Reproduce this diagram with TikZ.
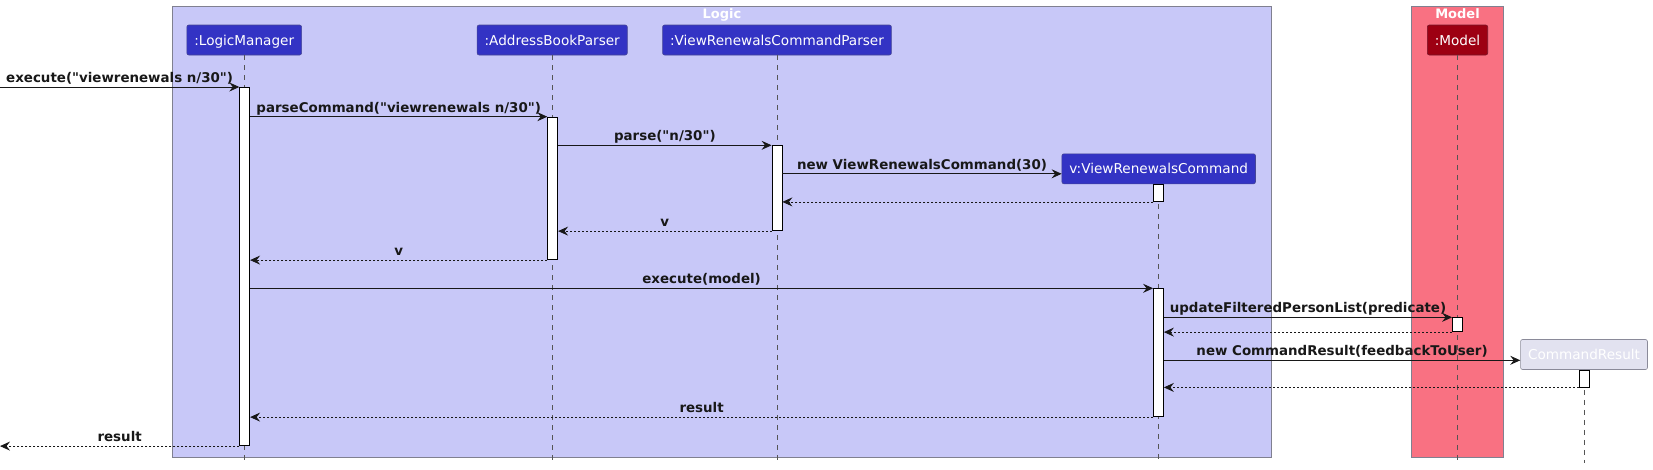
\documentclass[tikz,border=0pt]{standalone}
\usepackage{fontspec}
\setmainfont{DejaVu Sans}
\newfontfamily\umlfont{DejaVu Sans}
\usepackage{xcolor}
\usetikzlibrary{arrows.meta,positioning}

\definecolor{logicbg}{RGB}{200,200,248}
\definecolor{modelbg}{RGB}{249,113,130}
\definecolor{framegray}{RGB}{128,128,144}
\definecolor{partblue}{RGB}{51,51,196}
\definecolor{partborder}{RGB}{70,70,150}
\definecolor{modelred}{RGB}{157,0,18}
\definecolor{modelborder}{RGB}{120,20,40}
\definecolor{resultgray}{RGB}{226,226,240}
\definecolor{resultborder}{RGB}{138,138,153}
\definecolor{lifegray}{RGB}{85,85,85}
\definecolor{linecol}{RGB}{24,24,24}

\begin{document}
\begin{tikzpicture}[
    x=1pt, y=-1pt,
    frame/.style={draw=framegray, line width=0.8pt},
    participant/.style={rectangle, rounded corners=2pt, draw=partborder, fill=partblue, text=white, line width=0.6pt, minimum height=30pt, inner xsep=7.5pt, text height=10pt, text depth=0pt, font=\umlfont\fontsize{13.6}{16}\selectfont},
    activation/.style={rectangle, draw=black, fill=white, line width=0.8pt, minimum width=10pt, inner sep=0pt, anchor=north},
    lifeline/.style={draw=lifegray, line width=0.7pt, dash pattern=on 5pt off 5pt},
    call/.style={-{Stealth[length=10pt, width=9pt, inset=3.5pt]}, line width=0.8pt, draw=linecol},
    reply/.style={call, dash pattern=on 2pt off 2pt},
    msg/.style={font=\umlfont\fontsize{13.4}{15}\selectfont\bfseries, text=linecol, anchor=base, yshift=4.5pt, inner sep=0pt},
    boxlabel/.style={font=\umlfont\fontsize{13}{15}\selectfont\bfseries, text=white, anchor=base, inner sep=0pt},
]
\useasboundingbox (0,0) rectangle (1653,469);

% Boxes
\draw[frame, fill=logicbg] (172.7,6.3) rectangle (1271,457);
\draw[frame, fill=modelbg] (1411.3,6.3) rectangle (1503.7,457);
\node[boxlabel] (logicTitle) at (722,18) {Logic};
\node[boxlabel] (modelTitle) at (1457.5,18) {Model};

% Participants
\coordinate (left) at (0,0);
\coordinate (bottom) at (0,463);
\node[participant] (lm) at (244.2,40) {:LogicManager};
\node[participant] (abp) at (552.2,40) {:AddressBookParser};
\node[participant] (vrcp) at (777,40) {:ViewRenewalsCommandParser};
\node[participant] (vrc) at (1158.7,168.8) {v:ViewRenewalsCommand};
\node[participant, fill=modelred, draw=modelborder] (mdl) at (1457.5,40) {:Model};
\node[participant, fill=resultgray, draw=resultborder] (cr) at (1584,354.5) {CommandResult};

% Lifelines
\foreach \p in {lm,abp,vrcp,vrc,mdl,cr}
    \draw[lifeline] (\p.south) -- (\p.south |- bottom);

% Activations
\node[activation, minimum height=358.3pt] (lmA) at (244.7,87) {};
\node[activation, minimum height=142.6pt] (abpA) at (552.7,116.7) {};
\node[activation, minimum height=85pt] (vrcpA) at (777,145.3) {};
\node[activation, minimum height=17pt] (vrcA1) at (vrc.south) {};
\node[activation, minimum height=128pt] (vrcA2) at (1158.5,288.3) {};
\node[activation, minimum height=14pt] (mdlA) at (1457.5,317.3) {};
\node[activation, minimum height=16.8pt] (crA) at (cr.south) {};

\coordinate (vrcIn) at ([yshift=-5pt]vrc.west);
\coordinate (crIn) at ([yshift=-5.8pt]cr.west);

% Messages - parsing
\draw[call] (left |- lmA.north) -- node[msg] {execute("viewrenewals n/30")} (lmA.north west);
\draw[call] (lmA.east |- abpA.north) -- node[msg] {parseCommand("viewrenewals n/30")} (abpA.north west);
\draw[call] (abpA.east |- vrcpA.north) -- node[msg] {parse("n/30")} (vrcpA.north west);
\draw[call] (vrcpA.east |- vrcIn) -- node[msg] {new ViewRenewalsCommand(30)} (vrcIn);
\draw[reply] (vrcA1.south west) -- (vrcpA.east |- vrcA1.south);
\draw[reply] (vrcpA.south west) -- node[msg] {v} (abpA.east |- vrcpA.south);
\draw[reply] (abpA.south west) -- node[msg] {v} (lmA.east |- abpA.south);

% Messages - execution
\draw[call] (lmA.east |- vrcA2.north) -- node[msg] {execute(model)} (vrcA2.north west);
\draw[call] (vrcA2.east |- mdlA.north) -- node[msg] {updateFilteredPersonList(predicate)} (mdlA.north west);
\draw[reply] (mdlA.south west) -- (vrcA2.east |- mdlA.south);
\draw[call] (vrcA2.east |- crIn) -- node[msg] {new CommandResult(feedbackToUser)} (crIn);
\draw[reply] (crA.south west) -- (vrcA2.east |- crA.south);
\draw[reply] (vrcA2.south west) -- node[msg] {result} (lmA.east |- vrcA2.south);
\draw[reply] (lmA.south west) -- node[msg] {result} (left |- lmA.south);

\end{tikzpicture}
\end{document}
